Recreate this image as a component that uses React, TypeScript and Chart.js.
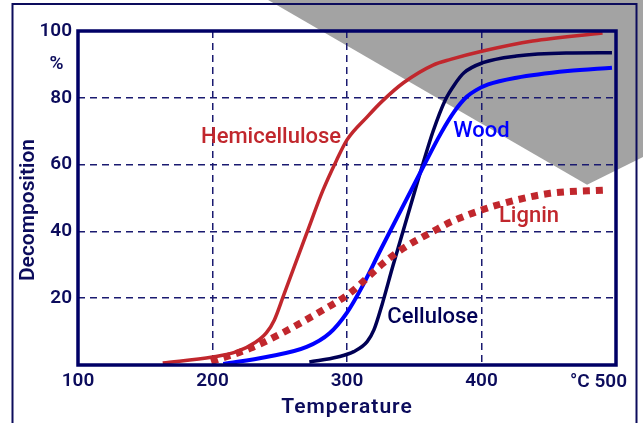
import React, { useEffect, useRef } from 'react';
import { Chart, registerables } from 'chart.js';

Chart.register(...registerables);

// ---- Data ----
const xTickValues = [100, 200, 300, 400, 500];
const xTickLabels = ['100', '200', '300', '400', ''];
const xLastLabel = '°C 500';
const yTickValues = [20, 40, 60, 80, 90, 100];
const yTickLabels = ['20', '40', '60', '80', '% \u2009', '100'];
const xGridValues = [200, 300, 400];
const yGridValues = [20, 40, 60, 80];

const hemiT = [163, 200, 218, 232, 240, 246, 253, 270, 282, 292, 300, 315, 327, 342, 364, 377, 401, 438, 490];
const hemiV = [0.6, 2.4, 4, 6.8, 9.6, 13.5, 21, 39.4, 52.2, 61.1, 67.4, 74.3, 79.3, 84.5, 89.8, 91.5, 94, 97, 99.4];

const celluloseT = [272, 293, 305, 315, 320, 326, 334, 342, 350, 357, 364, 373, 380, 387, 401, 426, 463, 497];
const celluloseV = [0.9, 2.4, 4, 7, 10.5, 18, 29.5, 40.5, 51.5, 61, 70, 79.3, 84, 87.5, 90.5, 92.5, 93.4, 93.5];

const woodT = [208, 240, 270, 287, 300, 312, 325, 340, 355, 370, 380, 389, 396, 405, 426, 464, 497];
const woodV = [0.3, 2.4, 5.4, 9.5, 15.7, 24, 34.5, 46.3, 58, 69.5, 76, 80.3, 82.3, 84, 86, 88, 89];

const ligninT = [199, 228, 252, 278, 302, 327, 342, 364, 377, 400, 426, 451, 493];
const ligninV = [1, 5, 9.6, 15.5, 21.5, 30.5, 35, 40, 42.8, 46.4, 49.4, 51.4, 52.4];

const seriesNames = ['Lignin', 'Hemicellulose', 'Wood', 'Cellulose'];

// label anchors in data units (left edge, baseline)
const labelTexts = ['Hemicellulose', 'Wood', 'Lignin', 'Cellulose'];
const labelT = [191.5, 379, 413, 330];
const labelV = [66.5, 68.3, 42.8, 12.6];

const NAVY = '#0c0c5c';
const RED = '#c1272d';
const BLUE = '#0000ff';
const DARK = '#000055';
const labelColors = [RED, BLUE, RED, DARK];

const FONT = 'Roboto, "Open Sans", sans-serif';

function pts(t: number[], v: number[]) {
  return t.map((x, i) => ({ x, y: v[i] }));
}

export default function App() {
  const ref = useRef<HTMLCanvasElement | null>(null);

  useEffect(() => {
    const canvas = ref.current;
    if (!canvas) return;

    const decor = {
      id: 'decor',
      beforeDraw(chart: any) {
        const { ctx, width, height } = chart;
        ctx.save();
        ctx.fillStyle = '#ffffff';
        ctx.fillRect(0, 0, width, height);
        // grey triangle in upper right
        ctx.fillStyle = '#a3a3a3';
        ctx.beginPath();
        ctx.moveTo(width * 0.417, 0);
        ctx.lineTo(width, 0);
        ctx.lineTo(width, height * 0.371);
        ctx.lineTo(width * 0.913, height * 0.437);
        ctx.closePath();
        ctx.fill();
        ctx.restore();
      },
      afterDraw(chart: any) {
        const { ctx, chartArea, scales, width, height } = chart;
        const xs = scales.x;
        const ys = scales.y;
        ctx.save();
        // plot frame
        ctx.strokeStyle = '#000066';
        ctx.lineWidth = 3.5;
        ctx.setLineDash([]);
        ctx.strokeRect(chartArea.left, chartArea.top, chartArea.right - chartArea.left, chartArea.bottom - chartArea.top);
        // outer frame
        ctx.strokeStyle = NAVY;
        ctx.lineWidth = 2;
        ctx.strokeRect(12.5, 4, width - 12.5 - 6.5, height + 10);

        // axis titles
        ctx.fillStyle = NAVY;
        ctx.font = `600 21px ${FONT}`;
        ctx.textAlign = 'center';
        ctx.textBaseline = 'middle';
        (ctx as any).letterSpacing = '1px';
        ctx.fillText('Temperature', (chartArea.left + chartArea.right) / 2, 408);
        (ctx as any).letterSpacing = '0px';
        ctx.save();
        ctx.translate(29, (chartArea.top + chartArea.bottom) / 2 + 12);
        ctx.rotate(-Math.PI / 2);
        ctx.fillText('Decomposition', 0, 0);
        ctx.restore();

        // last x tick label
        ctx.font = `600 19px ${FONT}`;
        ctx.textAlign = 'right';
        ctx.textBaseline = 'middle';
        ctx.fillText(xLastLabel, xs.getPixelForValue(500) + 11, 382);

        // series labels
        ctx.font = `500 22px ${FONT}`;
        ctx.textAlign = 'left';
        ctx.textBaseline = 'alphabetic';
        labelTexts.forEach((txt, i) => {
          ctx.fillStyle = labelColors[i];
          ctx.fillText(txt, xs.getPixelForValue(labelT[i]), ys.getPixelForValue(labelV[i]));
        });
        ctx.restore();
      },
    };

    const chart = new Chart(canvas, {
      type: 'line',
      data: {
        datasets: [
          {
            label: seriesNames[0],
            data: pts(ligninT, ligninV),
            borderColor: RED,
            borderWidth: 7,
            borderDash: [7, 6],
            borderCapStyle: 'butt',
            pointRadius: 0,
            cubicInterpolationMode: 'monotone',
            fill: false,
          },
          {
            label: seriesNames[1],
            data: pts(hemiT, hemiV),
            borderColor: RED,
            borderWidth: 3.5,
            pointRadius: 0,
            cubicInterpolationMode: 'monotone',
            fill: false,
          },
          {
            label: seriesNames[2],
            data: pts(woodT, woodV),
            borderColor: BLUE,
            borderWidth: 4,
            pointRadius: 0,
            cubicInterpolationMode: 'monotone',
            fill: false,
          },
          {
            label: seriesNames[3],
            data: pts(celluloseT, celluloseV),
            borderColor: DARK,
            borderWidth: 3.5,
            pointRadius: 0,
            cubicInterpolationMode: 'monotone',
            fill: false,
          },
        ],
      },
      options: {
        animation: false,
        responsive: false,
        maintainAspectRatio: false,
        devicePixelRatio: 1,
        layout: { padding: { top: 31, right: 27, left: 0, bottom: 0 } },
        plugins: { legend: { display: false }, tooltip: { enabled: false } },
        scales: {
          x: {
            type: 'linear',
            min: 100,
            max: 500,
            afterBuildTicks: (s: any) => {
              s.ticks = xTickValues.map((v) => ({ value: v }));
            },
            afterFit: (s: any) => {
              s.height = 58;
            },
            ticks: {
              autoSkip: false,
              maxRotation: 0,
              padding: 5,
              color: NAVY,
              font: { family: FONT, size: 19, weight: '600' },
              callback: (v: any) => {
                const i = xTickValues.indexOf(Number(v));
                return i >= 0 ? xTickLabels[i] : '';
              },
            },
            grid: {
              drawTicks: false,
              lineWidth: 1.5,
              color: (c: any) => (c.tick && xGridValues.includes(c.tick.value) ? '#1a1a70' : 'transparent'),
            },
            border: { display: false, dash: [7, 5] },
          },
          y: {
            type: 'linear',
            min: 0,
            max: 100,
            afterBuildTicks: (s: any) => {
              s.ticks = yTickValues.map((v) => ({ value: v }));
            },
            afterFit: (s: any) => {
              s.width = 78;
            },
            ticks: {
              autoSkip: false,
              padding: 6,
              color: NAVY,
              font: { family: FONT, size: 19, weight: '600' },
              callback: (v: any) => {
                const i = yTickValues.indexOf(Number(v));
                return i >= 0 ? yTickLabels[i] : '';
              },
            },
            grid: {
              drawTicks: false,
              lineWidth: 1.5,
              color: (c: any) => (c.tick && yGridValues.includes(c.tick.value) ? '#1a1a70' : 'transparent'),
            },
            border: { display: false, dash: [7, 5] },
          },
        },
      },
      plugins: [decor],
    } as any);

    return () => chart.destroy();
  }, []);

  return (
    <div style={{ position: 'absolute', left: 0, top: 0, width: 643, height: 423 }}>
      <canvas ref={ref} width={643} height={423} style={{ display: 'block' }} />
    </div>
  );
}
